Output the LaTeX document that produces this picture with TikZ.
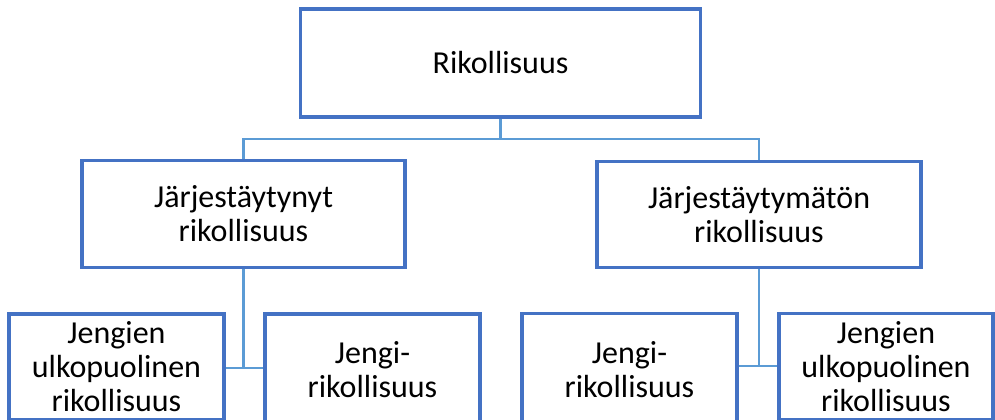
\documentclass[tikz,border=0pt]{standalone}
\usepackage{fontspec}
\setmainfont{Carlito}
\definecolor{boxblue}{HTML}{4472C4}
\definecolor{lineblue}{HTML}{5B9BD5}
\tikzset{
  orgbox/.style={draw=boxblue, line width=2.3pt, fill=white, rectangle, inner sep=0pt, align=center,
    font=\fontsize{24}{25.5}\selectfont},
  conn/.style={draw=lineblue, line width=2.2pt}
}
\begin{document}
\begin{tikzpicture}[x=0.75pt,y=-0.75pt]
\useasboundingbox (0,0) rectangle (995,419);
\clip (0,0) rectangle (995,419);
% top
\node[orgbox, minimum width=300pt, minimum height=81pt] (top) at (500.5,63) {Rikollisuus};
% middle
\node[orgbox, minimum width=242.25pt, minimum height=80pt] (ml) at (243.5,214) {Järjestäytynyt\\rikollisuus};
\node[orgbox, minimum width=243pt, minimum height=80pt] (mr) at (759,214.5) {Järjestäytymätön\\rikollisuus};
% bottom
\node[orgbox, minimum width=161.25pt, minimum height=79.5pt] (b1) at (116.5,367) {Jengien\\ulkopuolinen\\rikollisuus};
\node[orgbox, minimum width=161.25pt, minimum height=84pt] (b2) at (372.5,370) {Jengi-\\rikollisuus};
\node[orgbox, minimum width=161.25pt, minimum height=84pt] (b3) at (629.5,369.5) {Jengi-\\rikollisuus};
\node[orgbox, minimum width=160.5pt, minimum height=80pt] (b4) at (886,366.5) {Jengien\\ulkopuolinen\\rikollisuus};
% connectors
\coordinate (hy) at (0,139);
\draw[conn] (top.south) -- (top.south |- hy);
\draw[conn] (ml.north) -- (ml.north |- hy) -- (mr.north |- hy) -- (mr.north);
\coordinate (j1) at (ml.south |- 0,368);
\coordinate (j2) at (mr.south |- 0,366);
\draw[conn] (ml.south) -- (j1);
\draw[conn] (b1.east |- j1) -- (b2.west |- j1);
\draw[conn] (mr.south) -- (j2);
\draw[conn] (b3.east |- j2) -- (b4.west |- j2);
\end{tikzpicture}
\end{document}
